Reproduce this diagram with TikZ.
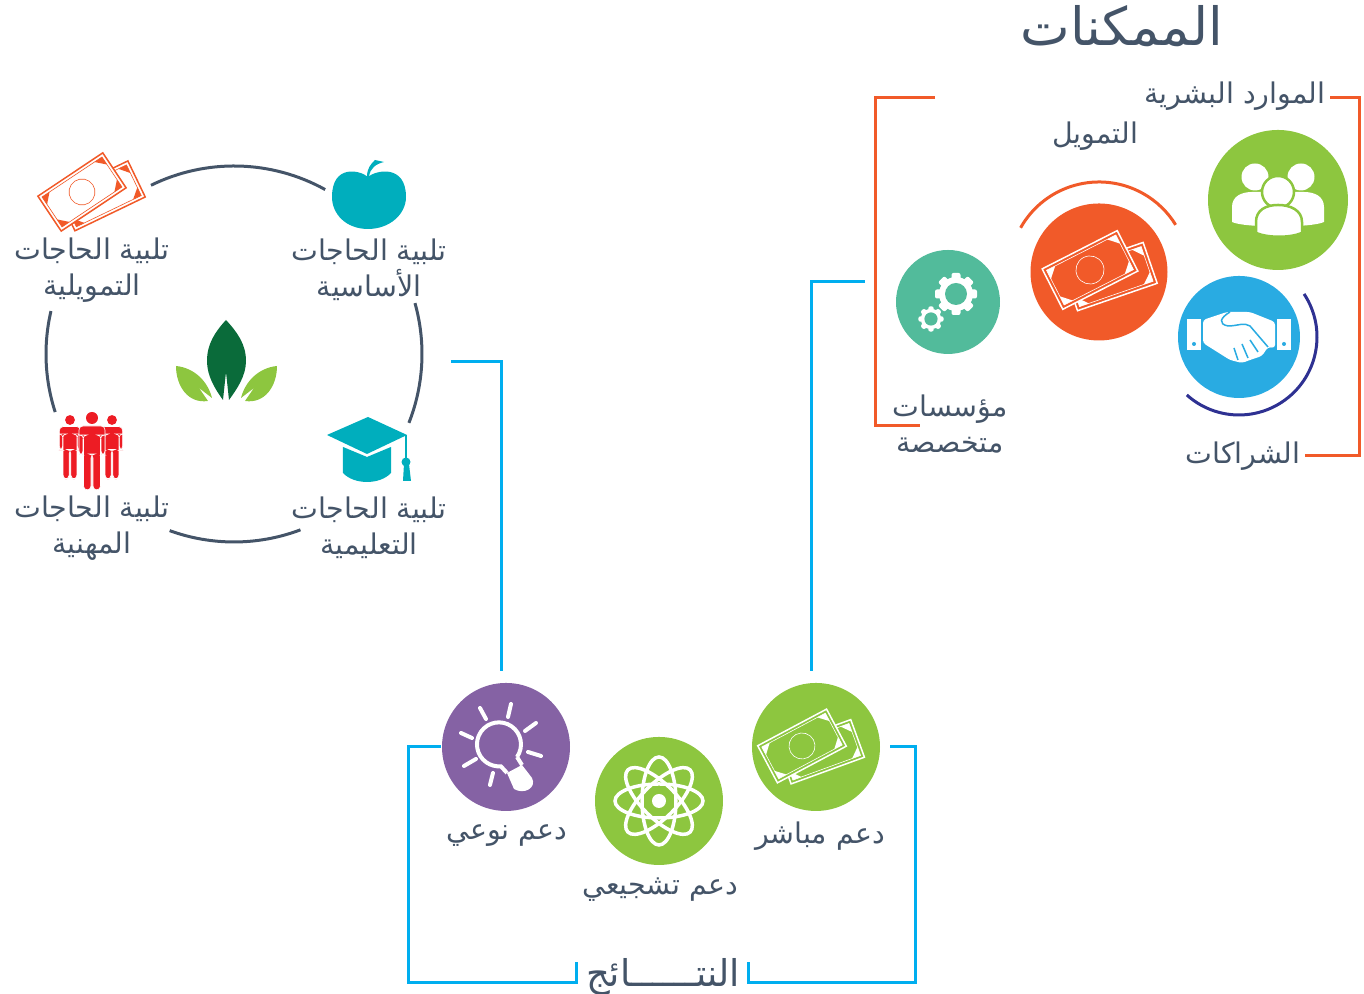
\documentclass[tikz,border=0pt]{standalone}
\usepackage{fontspec}
\newfontfamily\arabicfont[Script=Arabic]{DejaVu Sans}
\TeXXeTstate=1
\newcommand{\ar}[1]{\beginR #1\endR}
\definecolor{inkcolor}{RGB}{68, 84, 104}
\definecolor{bluecolor}{RGB}{0, 174, 239}
\definecolor{orangecolor}{RGB}{241, 90, 41}
\definecolor{leafcolor}{RGB}{141, 198, 63}
\definecolor{darkleaf}{RGB}{10, 107, 58}
\definecolor{tealcolor}{RGB}{0, 174, 189}
\definecolor{redcolor}{RGB}{237, 28, 36}
\definecolor{purplecolor}{RGB}{133, 98, 164}
\definecolor{seacolor}{RGB}{82, 187, 155}
\definecolor{skycolor}{RGB}{41, 171, 226}
\definecolor{navycolor}{RGB}{46, 49, 146}
\tikzstyle{label} = [font=\arabicfont\fontsize{8.1}{10.2}\selectfont, text=inkcolor, align=center, inner sep=0pt]
\tikzstyle{disc} = [circle, inner sep=0pt]
\tikzstyle{ringline} = [line width=0.3mm, inkcolor]
\tikzstyle{blueline} = [line width=0.3mm, bluecolor]
\tikzstyle{orangeline} = [line width=0.3mm, orangecolor]
\tikzstyle{whiteline} = [line width=0.4mm, white, line cap=round]
\tikzset{
  pics/money/.style 2 args={code={
    \begin{scope}[shift={(0.14,-0.14)}, rotate=-8]
      \draw [#1, fill=#2, line width=0.15mm] (-0.39,-0.20) rectangle (0.39,0.20);
      \draw [#1, line width=0.06mm] (-0.36,-0.17) rectangle (0.36,0.17);
      \foreach \sx/\sy in {1/1,1/-1,-1/1,-1/-1}
        \fill [#1, xscale=\sx, yscale=\sy] (0.36,0.17) -- (0.27,0.17) -- (0.36,0.08) -- cycle;
    \end{scope}
    \draw [#1, fill=#2, line width=0.15mm] (-0.39,-0.21) rectangle (0.39,0.21);
    \draw [#1, line width=0.06mm] (-0.36,-0.18) rectangle (0.36,0.18);
    \foreach \sx/\sy in {1/1,1/-1,-1/1,-1/-1}
      \fill [#1, xscale=\sx, yscale=\sy] (0.36,0.18) -- (0.27,0.18) -- (0.36,0.09) -- cycle;
    \draw [#1, line width=0.06mm] (0,0) circle (0.13);
  }},
  pics/person/.style={code={
    \fill [redcolor] (0,0) circle (0.06);
    \filldraw [redcolor, draw=white, line width=0.06mm, rounded corners=0.4mm]
      (-0.13,-0.08) -- (0.13,-0.08) -- (0.13,-0.37) -- (0.09,-0.37) -- (0.09,-0.17) --
      (0.085,-0.17) -- (0.085,-0.72) -- (0.01,-0.72) -- (0.01,-0.36) -- (-0.01,-0.36) --
      (-0.01,-0.72) -- (-0.085,-0.72) -- (-0.085,-0.17) -- (-0.09,-0.17) -- (-0.09,-0.37) --
      (-0.13,-0.37) -- cycle;
  }},
  pics/gear/.style={code={
    \fill [white] (0,0) circle (0.17);
    \foreach \a in {0,45,...,315}
      \fill [white, rotate=\a, rounded corners=0.2mm] (-0.045,0.13) rectangle (0.045,0.21);
    \fill [seacolor] (0,0) circle (0.11);
  }}
}
\begin{document}
\begin{tikzpicture}
    \useasboundingbox (0,0) rectangle (13.64,9.94);

    % needs ring
    \coordinate (ringC) at (2.34,6.40);
    \draw [ringline] ([shift={(116.2:1.88)}]ringC) arc [start angle=116.2, end angle=61, radius=1.88];
    \draw [ringline] ([shift={(15.7:1.88)}]ringC) arc [start angle=15.7, end angle=-21.5, radius=1.88];
    \draw [ringline] ([shift={(250:1.88)}]ringC) arc [start angle=250, end angle=290.7, radius=1.88];
    \draw [ringline] ([shift={(166.8:1.88)}]ringC) arc [start angle=166.8, end angle=198, radius=1.88];

    \node (needMoney) [label] at (0.92,7.24) {\ar{تلبية الحاجات}\\\ar{التمويلية}};
    \node (needFood) [label] at (3.69,7.24) {\ar{تلبية الحاجات}\\\ar{الأساسية}};
    \node (needWork) [label] at (0.92,4.66) {\ar{تلبية الحاجات}\\\ar{المهنية}};
    \node (needStudy) [label] at (3.69,4.66) {\ar{تلبية الحاجات}\\\ar{التعليمية}};

    % leaves
    \fill [darkleaf] (2.26,6.74) .. controls (2.15,6.62) and (2.07,6.50) .. (2.07,6.33)
      .. controls (2.07,6.18) and (2.15,6.05) .. (2.23,5.94) -- (2.26,6.22) -- (2.29,5.94)
      .. controls (2.37,6.05) and (2.46,6.18) .. (2.46,6.33) .. controls (2.46,6.50) and (2.37,6.62) .. (2.26,6.74) -- cycle;
    \fill [leafcolor] (1.76,6.28) .. controls (1.95,6.26) and (2.08,6.12) .. (2.12,5.96) -- (1.99,6.06) -- (2.08,5.93)
      .. controls (1.88,5.90) and (1.76,6.08) .. (1.76,6.28) -- cycle;
    \fill [leafcolor] (2.77,6.28) .. controls (2.58,6.26) and (2.45,6.12) .. (2.41,5.96) -- (2.54,6.06) -- (2.45,5.93)
      .. controls (2.65,5.90) and (2.77,6.08) .. (2.77,6.28) -- cycle;

    % ring icons
    \pic [rotate=33.7] at (0.82,8.02) {money={orangecolor}{white}};
    \fill [tealcolor] (3.68,8.17) .. controls (3.76,8.24) and (4.06,8.30) .. (4.06,7.97)
      .. controls (4.06,7.80) and (3.90,7.65) .. (3.68,7.65) .. controls (3.46,7.65) and (3.32,7.80) .. (3.32,7.97)
      .. controls (3.32,8.30) and (3.60,8.24) .. (3.68,8.17) -- cycle;
    \fill [tealcolor] (3.67,8.17) .. controls (3.67,8.26) and (3.71,8.30) .. (3.75,8.34) -- (3.84,8.32)
      .. controls (3.76,8.30) and (3.70,8.26) .. (3.69,8.17) -- cycle;
    \fill [tealcolor] (3.27,5.59) -- (3.68,5.77) -- (4.07,5.59) -- (3.67,5.40) -- cycle;
    \fill [tealcolor] (3.43,5.47) -- (3.67,5.37) -- (3.91,5.47) -- (3.91,5.21)
      .. controls (3.80,5.09) and (3.54,5.09) .. (3.43,5.21) -- cycle;
    \draw [tealcolor, line width=0.2mm] (4.06,5.59) -- (4.06,5.34);
    \fill [tealcolor] (4.06,5.32) circle (0.045);
    \fill [tealcolor] (4.04,5.30) -- (4.09,5.30) -- (4.11,5.13) -- (4.03,5.13) -- cycle;
    \pic [scale=0.82] at (0.70,5.74) {person};
    \pic [scale=0.82] at (1.12,5.74) {person};
    \pic at (0.92,5.76) {person};

    % ring to results
    \coordinate (ringOut) at (4.51,6.32);
    \coordinate (bulbIn) at (5.01,3.23);
    \draw [blueline] (ringOut) -| (bulbIn);

    % enablers
    \node (title) [label, font=\arabicfont\fontsize{15}{18}\selectfont] at (11.22,9.68) {\ar{الممكنات}};
    \node (people) [disc, fill=leafcolor, minimum size=1.40cm] at (12.78,7.94) {};
    \node (hands) [disc, fill=skycolor, minimum size=1.22cm] at (12.39,6.57) {};
    \node (funds) [disc, fill=orangecolor, minimum size=1.37cm] at (10.99,7.22) {};
    \node (gears) [disc, fill=seacolor, minimum size=1.04cm] at (9.48,6.92) {};
    \node (peopleText) [label] at (12.35,8.98) {\ar{الموارد البشرية}};
    \node (fundsText) [label] at (10.95,8.58) {\ar{التمويل}};
    \node (gearsText) [label] at (9.50,5.70) {\ar{مؤسسات}\\\ar{متخصصة}};
    \node (handsText) [label] at (12.43,5.38) {\ar{الشراكات}};

    \draw [orangeline] ([shift={(150.6:0.90)}]funds.center) arc [start angle=150.6, end angle=31.6, radius=0.90];
    \draw [line width=0.3mm, navycolor] ([shift={(33.5:0.78)}]hands.center) arc [start angle=33.5, end angle=-132, radius=0.78];

    \pic [rotate=27, scale=1.08] at (10.90,7.24) {money={white}{orangecolor}};
    \pic at (9.56,7.00) {gear};
    \pic [scale=0.6] at (9.31,6.75) {gear};

    % people icon
    \fill [white] (12.55,8.17) circle (0.135);
    \fill [white] (13.01,8.17) circle (0.135);
    \fill [white] (12.32,7.72) -- (12.32,7.87) .. controls (12.32,7.98) and (12.42,8.02) .. (12.52,8.02) -- (13.04,8.02)
      .. controls (13.14,8.02) and (13.24,7.98) .. (13.24,7.87) -- (13.24,7.72) .. controls (13.12,7.66) and (12.44,7.66) .. (12.32,7.72) -- cycle;
    \filldraw [white, draw=leafcolor, line width=0.25mm] (12.78,8.02) circle (0.16);
    \filldraw [white, draw=leafcolor, line width=0.25mm] (12.56,7.61) -- (12.56,7.72) .. controls (12.56,7.84) and (12.66,7.89) .. (12.78,7.89)
      .. controls (12.90,7.89) and (13.02,7.84) .. (13.02,7.72) -- (13.02,7.61) .. controls (12.90,7.56) and (12.68,7.56) .. (12.56,7.61) -- cycle;

    % handshake icon
    \fill [white] (11.87,6.75) rectangle (12.01,6.44);
    \fill [white] (12.77,6.75) rectangle (12.91,6.44);
    \fill [skycolor] (11.94,6.50) circle (0.02);
    \fill [skycolor] (12.84,6.50) circle (0.02);
    \fill [white, rounded corners=0.3mm] (12.03,6.74) -- (12.27,6.82) -- (12.50,6.82) -- (12.75,6.72) -- (12.75,6.46) -- (12.68,6.47)
      -- (12.62,6.38) -- (12.50,6.34) -- (12.42,6.31) -- (12.30,6.34) -- (12.03,6.51) -- cycle;
    \draw [skycolor, line width=0.15mm] (12.30,6.82) .. controls (12.20,6.76) and (12.18,6.70) .. (12.28,6.68)
      .. controls (12.38,6.68) and (12.44,6.72) .. (12.50,6.68) -- (12.68,6.47);
    \draw [skycolor, line width=0.15mm] (12.58,6.42) -- (12.50,6.54) (12.48,6.36) -- (12.42,6.50) (12.38,6.34) -- (12.34,6.46);

    % enabler brackets
    \coordinate (leftTop) at (9.35,8.96);
    \coordinate (leftCorner) at (8.75,8.96);
    \coordinate (leftEnd) at (9.20,5.68);
    \draw [orangeline] (leftTop) -- (leftCorner) |- (leftEnd);
    \coordinate (rightTop) at (13.30,8.96);
    \coordinate (rightCorner) at (13.59,8.96);
    \coordinate (rightEnd) at (13.05,5.38);
    \draw [orangeline] (rightTop) -- (rightCorner) |- (rightEnd);

    % results
    \node (bulb) [disc, fill=purplecolor, minimum size=1.28cm] at (5.06,2.47) {};
    \node (atom) [disc, fill=leafcolor, minimum size=1.28cm] at (6.59,1.93) {};
    \node (cash) [disc, fill=leafcolor, minimum size=1.28cm] at (8.16,2.47) {};
    \node (bulbText) [label] at (5.07,1.58) {\ar{دعم نوعي}};
    \node (atomText) [label] at (6.60,1.04) {\ar{دعم تشجيعي}};
    \node (cashText) [label] at (8.20,1.58) {\ar{دعم مباشر}};
    \node (resultText) [label, font=\arabicfont\fontsize{10.5}{12}\selectfont] at (6.63,0.17) {\ar{النتــــــائج}};

    % bulb icon
    \draw [white, line width=0.4mm] (5.17,2.37) arc [start angle=-35, end angle=275, radius=0.22] -- (5.07,2.21);
    \draw [white, line width=0.4mm] (5.17,2.37) -- (5.22,2.29);
    \fill [white] (5.07,2.21) -- (5.22,2.29) -- (5.32,2.16) .. controls (5.37,2.06) and (5.24,1.99) .. (5.14,2.05) -- cycle;
    \draw [whiteline] (4.80,2.86) -- (4.86,2.75);
    \draw [whiteline] (5.11,2.90) -- (5.08,2.77);
    \draw [whiteline] (5.36,2.71) -- (5.25,2.63);
    \draw [whiteline] (5.41,2.38) -- (5.28,2.42);
    \draw [whiteline] (4.90,2.09) -- (4.93,2.21);
    \draw [whiteline] (4.64,2.28) -- (4.76,2.35);
    \draw [whiteline] (4.61,2.61) -- (4.72,2.56);

    % atom icon
    \foreach \a in {0,45,90,135}
      \draw [white, line width=0.35mm, rotate around={\a:(atom.center)}] (atom.center) ellipse (0.44 and 0.17);
    \fill [white] (atom.center) circle (0.07);

    \pic [rotate=28] at (8.02,2.48) {money={white}{leafcolor}};

    % results brackets
    \coordinate (resLeft) at (4.41,2.47);
    \coordinate (resLeftCorner) at (4.08,0.11);
    \coordinate (resLeftEnd) at (5.76,0.32);
    \draw [blueline] (resLeft) -| (resLeftCorner) -| (resLeftEnd);
    \coordinate (resRight) at (8.90,2.47);
    \coordinate (resRightCorner) at (9.15,0.11);
    \coordinate (resRightEnd) at (7.48,0.32);
    \draw [blueline] (resRight) -| (resRightCorner) -| (resRightEnd);

    % results to enablers
    \coordinate (cashOut) at (8.11,3.23);
    \coordinate (gearsIn) at (8.65,7.12);
    \draw [blueline] (cashOut) |- (gearsIn);

\end{tikzpicture}
\end{document}
